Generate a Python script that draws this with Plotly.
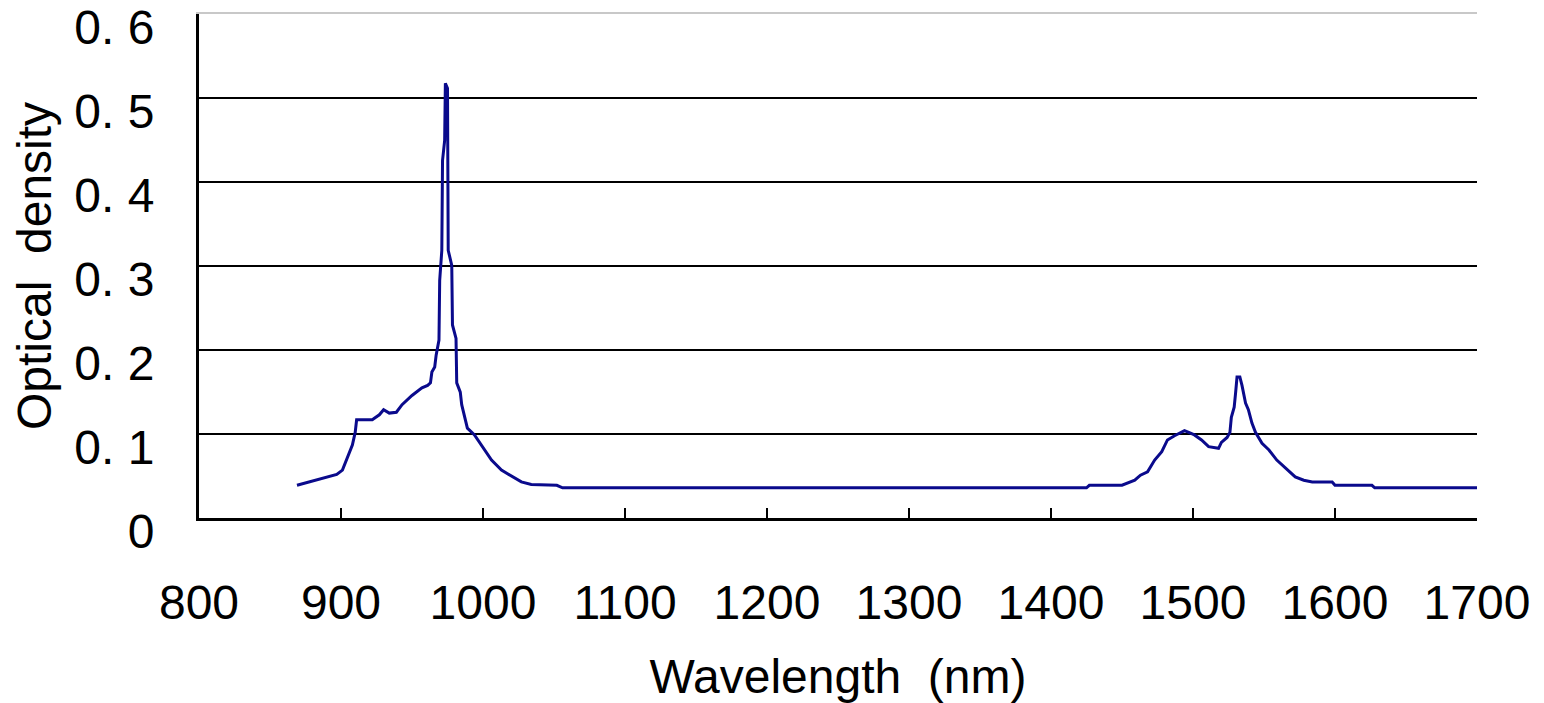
import plotly.graph_objects as go

wavelength_nm = [
    869, 880, 890, 897, 901, 904, 908, 910, 911, 922, 927, 930, 934, 939, 943,
    950, 957, 961, 963, 964, 966, 967, 968, 969, 969.5, 971, 971.5, 973, 973.5,
    975, 975.5, 978, 978.5, 981, 981.5, 984, 985, 987, 989, 994, 998, 1001,
    1006, 1013, 1020, 1027, 1034, 1052, 1056, 1425, 1427, 1450, 1459, 1463,
    1468, 1473, 1478, 1482, 1487, 1494, 1497, 1501, 1506, 1511, 1518, 1520,
    1524, 1526, 1527, 1529, 1530, 1531, 1533, 1534.5, 1537, 1539, 1541.5,
    1544, 1548.6, 1553.5, 1559, 1565, 1572, 1578, 1584, 1598, 1600, 1626,
    1628, 1700,
]
optical_density = [
    0.039, 0.044, 0.048, 0.052, 0.057, 0.069, 0.087, 0.102, 0.117, 0.117,
    0.123, 0.129, 0.125, 0.126, 0.135, 0.146, 0.155, 0.158, 0.161, 0.174,
    0.180, 0.194, 0.206, 0.212, 0.283, 0.319, 0.426, 0.450, 0.518, 0.512,
    0.319, 0.301, 0.230, 0.214, 0.161, 0.150, 0.135, 0.119, 0.107, 0.099,
    0.089, 0.081, 0.069, 0.057, 0.050, 0.043, 0.040, 0.039, 0.036, 0.036,
    0.039, 0.039, 0.045, 0.051, 0.055, 0.069, 0.079, 0.093, 0.098, 0.104,
    0.102, 0.099, 0.093, 0.085, 0.083, 0.090, 0.096, 0.102, 0.120, 0.132,
    0.149, 0.168, 0.168, 0.158, 0.137, 0.129, 0.113, 0.102, 0.089, 0.081,
    0.069, 0.060, 0.049, 0.045, 0.043, 0.043, 0.039, 0.039, 0.036, 0.036,
]

x_ticks = [800, 900, 1000, 1100, 1200, 1300, 1400, 1500, 1600, 1700]
y_ticks = [0, 0.1, 0.2, 0.3, 0.4, 0.5, 0.6]
y_tick_text = ["0", "0. 1", "0. 2", "0. 3", "0. 4", "0. 5", "0. 6"]

FONT = "Liberation Sans, Arial, sans-serif"

fig = go.Figure()
fig.add_trace(go.Scatter(
    x=wavelength_nm, y=optical_density, mode="lines",
    line=dict(color="#0a0a8c", width=3), showlegend=False,
))
# invisible trace on a top axis to draw the light-grey top border
fig.add_trace(go.Scatter(x=[800, 1700], y=[0, 0], xaxis="x2", mode="lines",
                         line=dict(width=0), hoverinfo="skip", showlegend=False))

fig.update_layout(
    width=1544, height=703,
    margin=dict(l=191, r=75, t=6, b=193),
    paper_bgcolor="white", plot_bgcolor="white",
    font=dict(family=FONT, size=48, color="black"),
    xaxis=dict(
        range=[800, 1700], tickvals=x_ticks, ticks="inside", ticklen=10,
        tickwidth=2, tickcolor="black", showgrid=False, zeroline=False,
        showline=True, linecolor="black", linewidth=3, automargin=False,
        ticklabelstandoff=40,
        tickfont=dict(size=48, family=FONT),
        title=dict(text="Wavelength  (nm)", standoff=32,
                   font=dict(size=48, family=FONT)),
    ),
    xaxis2=dict(
        range=[800, 1700], overlaying="x", side="top", showline=True,
        linecolor="#c8c8c8", linewidth=2, showticklabels=False, ticks="",
        showgrid=False, zeroline=False, automargin=False,
    ),
    yaxis=dict(
        range=[0, 0.6005], tickvals=y_ticks, ticktext=y_tick_text,
        ticks="inside", ticklen=15, tickwidth=2, tickcolor="black",
        showgrid=True, gridcolor="black", gridwidth=2, zeroline=False,
        showline=True, linecolor="black", linewidth=3, automargin=False,
        ticklabelstandoff=32, ticklabelshift=13, ticklabeloverflow="allow",
        tickfont=dict(size=48, family=FONT),
        title=dict(text="Optical  density", standoff=10,
                   font=dict(size=48, family=FONT)),
    ),
)

fig.write_html("out.html")
